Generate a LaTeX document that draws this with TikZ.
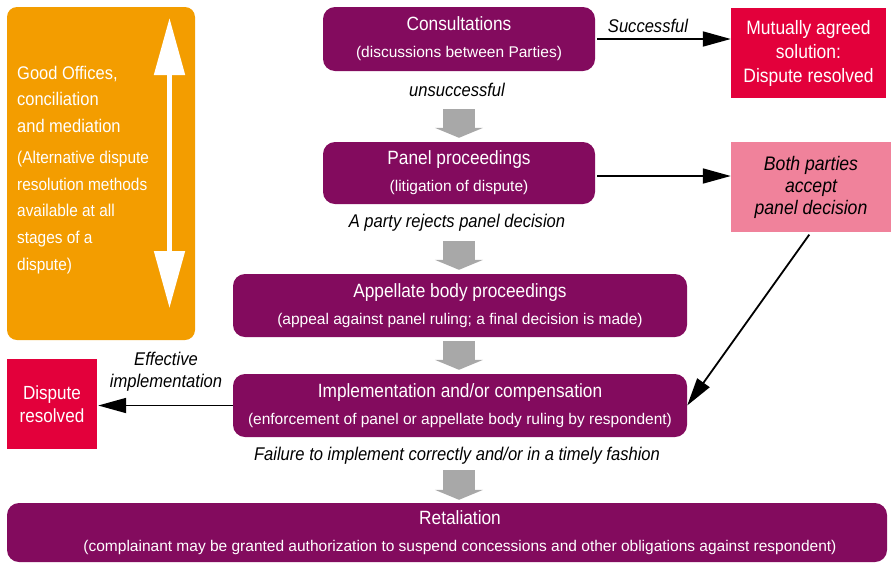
\documentclass[tikz,border=0pt]{standalone}
\usepackage{fontspec}
\setmainfont{Liberation Sans}
\newfontfamily\condensed{Liberation Sans}[FakeStretch=0.9]
\usetikzlibrary{arrows.meta}
\definecolor{wtopurple}{RGB}{131,11,94}
\definecolor{adrorange}{RGB}{243,157,0}
\definecolor{donered}{RGB}{227,0,59}
\definecolor{acceptpink}{RGB}{240,130,155}
\definecolor{stepgray}{RGB}{168,168,168}
\newcommand{\stagetitle}{\condensed\fontsize{19.2}{21}\selectfont}

\begin{document}
\begin{tikzpicture}[x=1pt,y=-1pt,
  stage/.style={fill=wtopurple,rounded corners=12pt,text=white,align=center,inner sep=0pt,font=\fontsize{15.5}{27}\selectfont,execute at begin node={\rule{0pt}{17pt}}},
  outcome/.style={fill=donered,text=white,align=center,inner sep=0pt,font=\condensed\fontsize{19.4}{24}\selectfont},
  cond/.style={align=center,font=\condensed\itshape\fontsize{18.4}{21.5}\selectfont},
  flow/.style={line width=1.8pt,-{Triangle[length=28pt,width=15pt]}},
  nextstep/.style={draw=stepgray,line width=32pt,-{Triangle[length=10pt,width=48pt]}}]
\useasboundingbox (0,0) rectangle (891,563);
% alternative dispute resolution
\node[fill=adrorange,rounded corners=10pt,minimum width=188pt,minimum height=333pt] (adr) at (101,173.5) {};
\node[anchor=north west,inner sep=0pt,align=left,text=white,font=\condensed\fontsize{18.3}{26.5}\selectfont] (adrtitle) at (17,66) {Good Offices,\\conciliation\\and mediation};
\node[anchor=north west,inner sep=0pt,align=left,text=white,font=\condensed\fontsize{17.1}{26.7}\selectfont] (adrnote) at (17,151) {(Alternative dispute\\resolution methods\\available at all\\stages of a\\dispute)};
\coordinate (adrtop) at (169.5,18);
\coordinate (adrbottom) at (169.5,308);
\draw[white,line width=5pt,{Triangle[length=57pt,width=30pt]}-{Triangle[length=57pt,width=30pt]}] (adrtop) -- (adrbottom);
% stages of the dispute
\node[stage,minimum width=272pt,minimum height=64pt] (cons) at (459,39) {{\stagetitle Consultations}\\(discussions between Parties)};
\node[stage,minimum width=272pt,minimum height=62pt] (panel) at (459,173) {{\stagetitle Panel proceedings}\\(litigation of dispute)};
\node[stage,minimum width=454pt,minimum height=63pt] (appeal) at (460,305.5) {{\stagetitle Appellate body proceedings}\\(appeal against panel ruling; a final decision is made)};
\node[stage,minimum width=454pt,minimum height=63pt] (impl) at (460,405.5) {{\stagetitle Implementation and/or compensation}\\(enforcement of panel or appellate body ruling by respondent)};
\node[stage,minimum width=880pt,minimum height=59pt] (retal) at (447,532.5) {};
\node[stage,fill=none] (retaltext) at (460,532.5) {{\stagetitle Retaliation}\\(complainant may be granted authorization to suspend concessions and other obligations against respondent)};
% outcomes
\node[outcome,minimum width=155pt,minimum height=90pt] (agreed) at (808.5,53) {Mutually agreed\\solution:\\Dispute resolved};
\node[outcome,fill=acceptpink,text=black,minimum width=160pt,minimum height=90pt,font=\condensed\itshape\fontsize{19.6}{22}\selectfont] (accept) at (811,187) {Both parties\\accept\\panel decision};
\node[outcome,minimum width=90pt,minimum height=90pt,font=\condensed\fontsize{19}{23}\selectfont] (resolved) at (52,404) {Dispute\\resolved};
% conditions
\node[cond] (unsucc) at (457,90) {unsuccessful};
\node[cond] (rejects) at (457,223) {A party rejects panel decision};
\node[cond] (failure) at (457,456) {Failure to implement correctly and/or in a timely fashion};
\node[cond] (succ) at (648,26) {Successful};
\node[cond] (effective) at (166,371.5) {Effective\\implementation};
% arrows
\draw[nextstep,shorten <=38pt,shorten >=4pt] (cons.south) -- (panel.north);
\draw[nextstep,shorten <=37pt,shorten >=4pt] (panel.south) -- (panel.south |- appeal.north);
\draw[nextstep,shorten <=4pt,shorten >=4pt] (appeal.south -| panel.south) -- (panel.south |- impl.north);
\draw[nextstep,shorten <=33pt,shorten >=3pt] (impl.south -| panel.south) -- (panel.south |- retal.north);
\draw[flow,shorten <=2pt] (cons.east) -- (cons.east -| agreed.west);
\draw[flow,shorten <=2pt] ([yshift=-3pt]panel.east) -- ([yshift=-3pt]panel.east -| accept.west);
\draw[flow,shorten <=3pt] (accept.south) -- (impl.east);
\draw[flow,shorten >=1pt] (impl.west) -- (impl.west -| resolved.east);
\end{tikzpicture}
\end{document}
